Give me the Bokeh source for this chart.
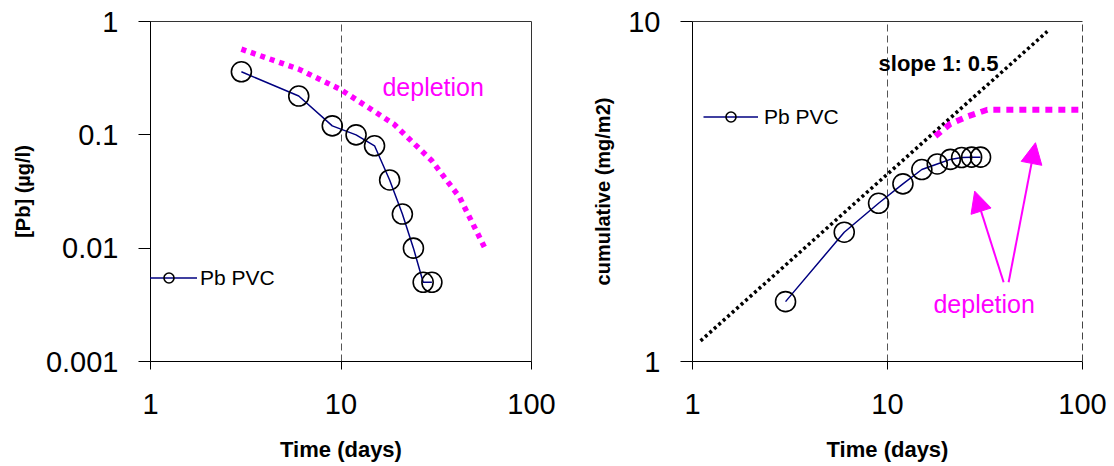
from bokeh.plotting import figure
from bokeh.models import FixedTicker, Legend, LegendItem, Arrow, NormalHead, Label, LogAxis
from bokeh.layouts import row
from bokeh.embed import file_html
from bokeh.resources import INLINE

FONT = "Liberation Sans"
MAGENTA = "#FF00FF"
NAVY = "#000080"

# ---- data ----
days = [3, 6, 9, 12, 15, 18, 21, 24, 27, 30]
pb_conc = [0.36, 0.22, 0.12, 0.10, 0.08, 0.04, 0.02, 0.01, 0.005, 0.005]
pb_cum = [1.5, 2.4, 2.92, 3.33, 3.67, 3.81, 3.93, 3.98, 3.99, 3.99]

depl_conc_days = [3, 6, 10, 19, 30, 42, 58]
depl_conc = [0.57, 0.38, 0.25, 0.124, 0.059, 0.028, 0.0094]

depl_cum_days = [17.6, 21, 25.6, 32.5, 100]
depl_cum = [4.6, 5.0, 5.25, 5.5, 5.5]

slope_days = [1.1, 66]
slope_cum = [1.15, 9.35]

x_ticks = [1, 10, 100]
x_tick_labels = ["1", "10", "100"]
conc_ticks = [0.001, 0.01, 0.1, 1]
conc_tick_labels = ["0.001", "0.01", "0.1", "1"]
cum_ticks = [1, 10]
cum_tick_labels = ["1", "10"]

series_name = "Pb PVC"
x_title = "Time (days)"
conc_title = "[Pb] (µg/l)"
cum_title = "cumulative (mg/m2)"


def make_fig(width, border_left, border_right, y_range, yticks, ylabels, ytitle, ylabel_standoff, grid_ticks):
    p = figure(width=width, height=466, x_axis_type="log", y_axis_type="log",
               x_range=(1, 100), y_range=y_range, output_backend="svg",
               toolbar_location=None, min_border_left=border_left,
               min_border_right=border_right, min_border_top=21, min_border_bottom=105)
    p.background_fill_color = "white"
    p.border_fill_color = "white"
    for ax in (p.xaxis, p.yaxis):
        ax.axis_line_color = "black"
        ax.axis_line_width = 1
        ax.major_tick_line_color = "black"
        ax.minor_tick_line_color = None
        ax.major_tick_in = 0
        ax.major_label_text_font = FONT
        ax.major_label_text_font_size = "29px"
        ax.major_label_text_color = "black"
        ax.axis_label_text_font = FONT
        ax.axis_label_text_font_style = "bold"
        ax.axis_label_text_font_size = "20px"
        ax.axis_label_text_color = "black"
        ax.major_label_standoff = 20
    p.xaxis.ticker = FixedTicker(ticks=x_ticks, minor_ticks=[])
    p.xaxis.major_label_overrides = dict(zip(x_ticks, x_tick_labels))
    p.xaxis.major_tick_out = 8
    p.xaxis.major_label_standoff = 24
    p.xaxis.axis_label = x_title
    p.xaxis.axis_label_text_font_size = "22px"
    p.xaxis.axis_label_standoff = 20
    p.yaxis.ticker = FixedTicker(ticks=yticks, minor_ticks=[])
    p.yaxis.major_label_overrides = dict(zip(yticks, ylabels))
    p.yaxis.major_tick_out = 12
    p.yaxis.axis_label = ytitle
    p.yaxis.axis_label_standoff = ylabel_standoff
    p.xgrid.ticker = FixedTicker(ticks=grid_ticks, minor_ticks=[])
    p.xgrid.grid_line_color = "#555555"
    p.xgrid.grid_line_dash = "7 4"
    p.xgrid.grid_line_width = 1
    p.ygrid.grid_line_color = None
    return p


def bare_axis(**line):
    ax = LogAxis(ticker=FixedTicker(ticks=[], minor_ticks=[]),
                 major_label_text_font_size="0px", major_tick_line_color=None,
                 minor_tick_line_color=None, **line)
    return ax


# ---- left panel ----
p1 = make_fig(560, 150, 29, (0.001, 1), conc_ticks, conc_tick_labels, conc_title, 9, [10])
p1.outline_line_color = "#333333"
p1.outline_line_width = 1

p1.line(depl_conc_days, depl_conc, line_color=MAGENTA, line_width=5.5, line_dash="5 5")
l1 = p1.line(days, pb_conc, line_color=NAVY, line_width=1.5)
s1 = p1.scatter(days, pb_conc, marker="circle", size=20, fill_color=None,
                line_color="black", line_width=1.6)
p1.add_layout(Label(x=16.5, y=0.266, text="depletion", text_color=MAGENTA,
                    text_font=FONT, text_font_size="25px", text_baseline="middle"))
leg1 = Legend(items=[LegendItem(label=series_name, renderers=[l1, s1])],
              location=(-10, 71), glyph_width=57, glyph_height=25, label_height=25,
              label_standoff=3, padding=0, margin=0, spacing=0,
              border_line_color=None, background_fill_alpha=0,
              label_text_font=FONT, label_text_font_size="21px", label_text_color="black")
p1.add_layout(leg1)

# ---- right panel ----
p2 = make_fig(554, 132, 32, (1, 10), cum_ticks, cum_tick_labels, cum_title, 11, [10])
p2.outline_line_color = None
p2.add_layout(bare_axis(axis_line_color="#333333", axis_line_width=1), "above")
p2.add_layout(bare_axis(axis_line_color="#444444", axis_line_width=1, axis_line_dash="7 4"), "right")

p2.line(slope_days, slope_cum, line_color="black", line_width=3.5, line_dash="3 3")
p2.line(depl_cum_days, depl_cum, line_color=MAGENTA, line_width=6, line_dash="7 6")
l2 = p2.line(days, pb_cum, line_color=NAVY, line_width=1.5)
s2 = p2.scatter(days, pb_cum, marker="circle", size=20, fill_color=None,
                line_color="black", line_width=1.6)
p2.add_layout(Label(x=9.0, y=7.52, text="slope 1: 0.5", text_color="black",
                    text_font=FONT, text_font_style="bold", text_font_size="22px",
                    text_baseline="middle"))
p2.add_layout(Label(x=17.2, y=1.48, text="depletion", text_color=MAGENTA,
                    text_font=FONT, text_font_size="25px", text_baseline="middle"))
for xs, ys, xe, ye in [(39.4, 1.71, 28.0, 3.17), (41.8, 1.71, 57.4, 4.40)]:
    p2.add_layout(Arrow(x_start=xs, y_start=ys, x_end=xe, y_end=ye,
                        line_color=MAGENTA, line_width=2,
                        end=NormalHead(size=21, fill_color=MAGENTA, line_color=MAGENTA)))
leg2 = Legend(items=[LegendItem(label=series_name, renderers=[l2, s2])],
              location=(11, 232), glyph_width=55, glyph_height=25, label_height=25,
              label_standoff=6, padding=0, margin=0, spacing=0,
              border_line_color=None, background_fill_alpha=0,
              label_text_font=FONT, label_text_font_size="21px", label_text_color="black")
p2.add_layout(leg2)

layout = row(p1, p2, spacing=0)
open("out.html", "w").write(file_html(layout, INLINE))
